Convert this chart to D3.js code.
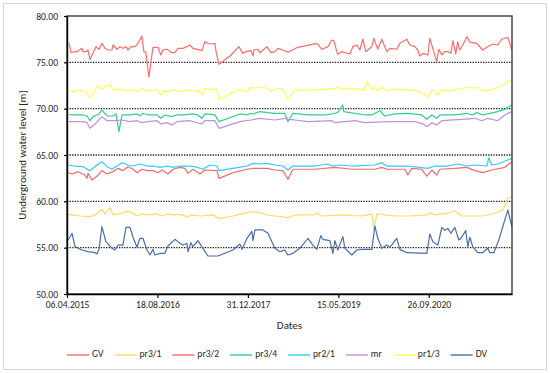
<!DOCTYPE html>
<html><head><meta charset="utf-8">
<script src="https://cdn.jsdelivr.net/npm/d3@7"></script>
<style>body{margin:0;background:#fff;} svg{display:block;}</style>
</head><body>
<script>
// ---- data: [days since 06.04.2015, water level m] ----
const xTickDays = [0, 500, 1000, 1500, 2000];
const xTickLabels = ["06.04.2015", "18.08.2016", "31.12.2017", "15.05.2019", "26.09.2020"];
const yTicks = [50, 55, 60, 65, 70, 75, 80];
const seriesNames = ["GV", "pr3/1", "pr3/2", "pr3/4", "pr2/1", "mr", "pr1/3", "DV"];

const gvData = [[11,77.10],[22,76.08],[55,76.15],[83,76.51],[88,76.15],[105,76.15],[116,76.33],[127,75.30],[144,76.00],[160,76.69],[177,76.41],[193,77.05],[210,76.51],[227,76.33],[249,76.33],[254,76.87],[276,76.41],[293,76.69],[309,76.51],[326,76.69],[337,76.33],[354,76.69],[376,76.69],[392,77.05],[414,77.85],[425,76.15],[436,76.08],[453,73.42],[475,76.62],[503,76.62],[519,75.79],[530,76.33],[553,76.41],[580,76.04],[597,76.08],[613,76.51],[641,76.51],[663,76.69],[680,76.87],[696,76.51],[746,76.26],[762,77.23],[779,77.05],[801,76.98],[818,77.05],[823,76.26],[840,74.79],[901,75.68],[950,76.69],[972,75.97],[989,76.15],[1017,76.26],[1028,75.68],[1033,76.33],[1055,76.41],[1066,76.04],[1105,76.69],[1127,76.04],[1149,76.15],[1166,76.51],[1193,76.33],[1221,76.08],[1276,76.62],[1381,77.05],[1409,76.41],[1442,76.69],[1464,77.41],[1475,77.33],[1492,76.15],[1497,75.87],[1519,76.15],[1564,75.90],[1580,76.69],[1602,76.87],[1619,76.33],[1635,77.49],[1652,76.15],[1685,76.69],[1696,77.59],[1718,76.41],[1740,77.49],[1768,76.15],[1785,76.51],[1823,76.41],[1840,77.05],[1879,77.49],[1895,76.87],[1923,76.69],[1939,76.33],[1950,75.68],[1967,75.97],[1995,75.79],[2006,77.59],[2022,76.51],[2044,75.07],[2055,76.41],[2072,75.79],[2088,76.15],[2105,76.15],[2122,75.97],[2133,77.33],[2149,75.90],[2160,77.23],[2171,76.33],[2188,76.87],[2210,77.77],[2227,77.19],[2265,77.05],[2298,76.33],[2326,76.69],[2354,76.98],[2381,76.87],[2403,77.49],[2437,77.70],[2459,76.33]];

const pr31Data = [[6,58.60],[72,58.42],[127,58.35],[155,58.53],[193,59.14],[210,58.64],[238,59.32],[254,58.53],[293,58.64],[320,58.89],[348,58.89],[387,58.42],[414,58.64],[448,58.53],[497,58.64],[525,58.42],[553,58.64],[586,58.53],[624,58.60],[663,58.35],[691,58.53],[735,58.42],[807,58.53],[840,58.17],[917,58.42],[995,58.78],[1028,58.89],[1066,58.78],[1105,58.53],[1149,58.42],[1221,58.24],[1260,58.53],[1370,58.53],[1381,58.78],[1409,58.42],[1519,58.53],[1630,58.42],[1685,58.64],[1696,56.98],[1713,58.64],[1812,58.42],[1884,58.42],[1995,58.53],[2006,58.78],[2033,58.53],[2105,58.71],[2144,58.99],[2182,58.42],[2254,58.42],[2293,58.42],[2365,58.71],[2409,59.07],[2437,60.33],[2459,60.44]];

const pr32Data = [[6,63.09],[28,62.95],[61,63.20],[99,62.84],[111,62.48],[116,63.02],[138,62.30],[166,62.73],[193,63.31],[221,62.95],[254,63.20],[282,63.56],[309,63.31],[337,63.74],[365,63.46],[387,63.09],[414,63.46],[442,63.31],[475,63.31],[503,63.09],[525,63.38],[558,62.95],[586,63.46],[624,63.67],[652,63.56],[669,63.02],[696,63.46],[735,62.95],[762,63.38],[829,63.31],[840,62.48],[917,63.09],[995,63.46],[1028,63.56],[1105,63.56],[1149,63.38],[1193,63.31],[1221,62.38],[1249,63.46],[1370,63.46],[1481,63.67],[1575,63.46],[1702,63.46],[1740,63.67],[1768,63.46],[1867,63.46],[1884,62.84],[1906,63.56],[1961,63.46],[1989,62.73],[2017,63.38],[2044,62.84],[2061,63.46],[2144,63.56],[2210,63.67],[2254,63.31],[2298,63.09],[2348,63.38],[2420,63.67],[2459,64.28]];

const pr34Data = [[11,69.39],[28,69.32],[88,69.32],[111,69.21],[127,68.70],[144,69.14],[177,69.43],[193,69.86],[210,69.43],[227,69.21],[254,69.21],[271,69.43],[287,67.52],[304,69.32],[348,69.32],[387,69.43],[403,69.21],[420,69.50],[448,69.32],[497,69.32],[519,68.96],[541,69.32],[575,69.14],[608,69.32],[652,69.32],[691,69.43],[724,69.32],[746,68.96],[762,69.43],[818,69.32],[840,68.60],[956,69.43],[995,69.32],[1017,69.50],[1028,69.43],[1066,69.68],[1111,69.57],[1149,69.50],[1204,69.50],[1221,68.60],[1249,69.50],[1332,69.32],[1425,69.32],[1481,69.50],[1497,69.61],[1525,70.40],[1530,69.68],[1591,69.50],[1646,69.32],[1685,69.32],[1729,69.78],[1757,69.21],[1812,69.43],[1884,69.50],[1961,69.32],[1989,68.85],[2017,69.32],[2044,68.96],[2061,69.32],[2144,69.32],[2210,69.50],[2238,69.32],[2265,69.57],[2298,69.32],[2337,69.50],[2381,69.68],[2420,69.93],[2459,70.40]];

const pr21Data = [[6,63.92],[44,63.81],[88,63.74],[127,63.31],[166,63.92],[193,64.28],[221,63.74],[249,63.46],[276,63.81],[304,64.17],[337,63.92],[365,63.81],[403,64.03],[442,63.81],[475,63.81],[514,63.67],[553,63.81],[586,63.67],[624,63.81],[669,63.81],[707,63.74],[751,63.46],[790,63.92],[829,63.81],[840,63.31],[917,63.56],[995,63.81],[1028,64.10],[1066,64.03],[1105,64.10],[1149,63.92],[1193,63.81],[1221,63.38],[1249,63.81],[1370,63.81],[1442,64.03],[1470,63.81],[1508,63.92],[1575,63.81],[1702,63.92],[1740,64.17],[1768,63.81],[1884,63.81],[1995,63.56],[2033,63.81],[2105,63.81],[2160,64.03],[2210,63.81],[2254,63.92],[2321,63.81],[2332,64.71],[2348,63.92],[2381,64.03],[2437,64.46],[2459,64.64]];

const mrData = [[11,68.60],[88,68.60],[111,68.49],[127,67.88],[155,68.35],[193,69.14],[221,68.70],[265,68.70],[304,68.78],[348,68.60],[387,68.70],[414,68.49],[448,68.60],[497,68.70],[519,68.35],[553,68.49],[580,68.24],[608,68.60],[680,68.70],[746,68.35],[762,68.70],[818,68.70],[840,67.88],[956,68.60],[1017,68.78],[1066,68.96],[1149,68.78],[1204,68.96],[1221,68.85],[1260,68.78],[1332,68.60],[1464,68.70],[1481,68.49],[1591,68.70],[1646,68.49],[1774,68.60],[1923,68.60],[1961,68.42],[1989,68.05],[2017,68.49],[2044,68.24],[2072,68.70],[2182,68.85],[2254,68.96],[2293,68.70],[2326,68.96],[2381,68.70],[2420,69.32],[2459,69.68]];

const pr13Data = [[11,72.01],[28,71.83],[55,71.91],[83,72.01],[105,71.83],[127,71.12],[155,72.09],[171,72.45],[188,72.09],[204,72.31],[238,72.55],[254,72.09],[282,72.09],[309,72.01],[337,71.91],[376,72.09],[387,71.83],[420,72.20],[431,71.91],[470,71.91],[497,72.09],[519,71.47],[530,71.91],[553,71.83],[580,72.01],[613,71.91],[641,71.83],[669,72.01],[696,71.91],[724,71.91],[746,71.47],[762,72.20],[807,72.09],[829,72.09],[840,71.01],[956,72.09],[995,71.83],[1017,72.31],[1039,72.20],[1066,72.31],[1105,72.20],[1127,71.91],[1149,72.09],[1188,72.20],[1221,71.01],[1260,72.01],[1332,72.01],[1425,72.09],[1481,72.20],[1497,72.31],[1519,72.09],[1564,72.20],[1619,72.09],[1641,72.01],[1658,72.91],[1685,72.09],[1702,72.31],[1718,71.91],[1740,72.31],[1768,71.91],[1801,72.09],[1851,72.09],[1906,72.01],[1939,71.91],[1967,71.58],[1995,71.29],[2017,72.01],[2033,71.91],[2044,71.47],[2072,72.01],[2105,71.91],[2155,72.09],[2182,72.20],[2210,72.31],[2238,72.20],[2271,72.31],[2298,71.91],[2354,72.09],[2403,72.45],[2437,72.91],[2459,73.09]];

const dvData = [[6,55.83],[28,56.55],[44,55.11],[83,54.75],[116,54.57],[155,54.46],[166,54.32],[177,54.82],[193,57.26],[215,55.65],[249,54.93],[265,54.75],[282,55.28],[309,55.28],[326,57.19],[348,57.19],[365,56.12],[387,55.04],[403,56.01],[420,56.01],[442,54.75],[459,54.21],[475,54.82],[486,54.21],[514,54.39],[541,54.39],[558,55.18],[597,55.90],[613,55.65],[641,55.28],[663,55.47],[669,54.57],[685,55.54],[696,55.11],[724,55.76],[779,54.10],[834,54.10],[917,54.75],[956,55.39],[967,54.82],[995,56.01],[1022,56.76],[1028,55.76],[1039,56.91],[1083,56.91],[1111,56.55],[1149,54.93],[1177,54.57],[1204,54.75],[1221,54.21],[1249,54.39],[1287,54.93],[1332,56.01],[1359,55.28],[1381,54.82],[1403,56.30],[1414,55.90],[1453,55.76],[1470,54.39],[1481,55.76],[1497,54.75],[1525,56.19],[1536,54.93],[1575,54.21],[1602,54.75],[1630,54.82],[1685,54.82],[1702,57.34],[1718,56.01],[1740,54.93],[1768,55.28],[1785,55.04],[1823,56.01],[1840,54.82],[1879,54.46],[1989,54.39],[2006,56.48],[2022,55.65],[2050,55.28],[2072,57.19],[2088,56.87],[2105,57.08],[2122,56.55],[2144,57.19],[2166,55.83],[2182,56.12],[2204,56.84],[2216,55.11],[2227,56.12],[2243,55.11],[2271,54.46],[2298,54.46],[2326,54.93],[2337,54.46],[2359,54.46],[2387,55.83],[2437,59.07],[2459,57.26]];

const seriesData = [gvData, pr31Data, pr32Data, pr34Data, pr21Data, mrData, pr13Data, dvData];
const seriesColors = ["#ff6b6b", "#ffd966", "#f8696b", "#2fd08c", "#2ecbff", "#c08fdc", "#ffff4d", "#4a6ea6"];

// ---- drawing ----
const W = 550, H = 373;
const L = 67, R = 512, T = 16, B = 294;
const font = "Carlito, Lato, 'Open Sans', sans-serif";
const textColor = "#262626";

const svg = d3.select("body").append("svg").attr("width", W).attr("height", H);
svg.append("rect").attr("x", 3.5).attr("y", 3.5).attr("width", 543).attr("height", 366)
  .attr("fill", "#fff").attr("stroke", "#d9d9d9").attr("stroke-width", 1);

const x = d3.scaleLinear().domain([0, 2460]).range([L, R]);
const y = d3.scaleLinear().domain([50, 80]).range([B, T]);

// gridlines
svg.append("g").selectAll("line").data(yTicks.filter(v => v > 50 && v < 80)).join("line")
  .attr("x1", L).attr("x2", R).attr("y1", d => y(d)).attr("y2", d => y(d))
  .attr("stroke", "#1a1a1a").attr("stroke-width", 1.3).attr("stroke-dasharray", "1.3,1.3");

// series
const line = d3.line().x(d => x(d[0])).y(d => y(d[1]));
svg.append("g").selectAll("path").data(seriesData).join("path")
  .attr("d", line).attr("fill", "none")
  .attr("stroke", (d, i) => seriesColors[i]).attr("stroke-width", 1.2)
  .attr("stroke-linejoin", "round");

// plot border
svg.append("rect").attr("x", L).attr("y", T).attr("width", R - L).attr("height", B - T)
  .attr("fill", "none").attr("stroke", "#3a3a3a").attr("stroke-width", 1.4);

// axes
const yAxis = svg.append("g").attr("transform", `translate(${L},0)`)
  .call(d3.axisLeft(y).tickValues(yTicks).tickFormat(d3.format(".2f")).tickSize(3).tickSizeOuter(0).tickPadding(6));
const xAxis = svg.append("g").attr("transform", `translate(0,${B})`)
  .call(d3.axisBottom(x).tickValues(xTickDays).tickFormat((d, i) => xTickLabels[i]).tickSize(4).tickSizeOuter(0).tickPadding(3));
[yAxis, xAxis].forEach(g => {
  g.select(".domain").attr("stroke", "#000").attr("stroke-width", 1.4);
  g.selectAll(".tick line").attr("stroke", "#000").attr("stroke-width", 1.2);
  g.selectAll("text").attr("font-family", font).attr("font-size", 9.6).attr("fill", textColor);
});

// axis titles
svg.append("text").attr("x", (L + R) / 2).attr("y", 326).attr("text-anchor", "middle")
  .attr("dominant-baseline", "middle").attr("font-family", font).attr("font-size", 11)
  .attr("fill", textColor).text("Dates");
svg.append("text").attr("transform", `translate(23,${(T + B) / 2}) rotate(-90)`)
  .attr("text-anchor", "middle").attr("dominant-baseline", "middle")
  .attr("font-family", font).attr("font-size", 11).attr("fill", textColor)
  .text("Underground water level [m]");

// legend
const legY = 355;
const leg = svg.append("g");
const items = leg.selectAll("g").data(seriesNames).join("g");
items.append("line").attr("x1", 0).attr("x2", 22).attr("y1", legY).attr("y2", legY)
  .attr("stroke", (d, i) => seriesColors[i]).attr("stroke-width", 1.4);
items.append("text").attr("x", 25).attr("y", legY).attr("dominant-baseline", "middle")
  .attr("font-family", font).attr("font-size", 9.6).attr("fill", textColor).text(d => d);
let cx = 0;
const offs = [];
items.each(function () {
  const w = 25 + this.querySelector("text").getComputedTextLength();
  offs.push(cx);
  cx += w + 11;
});
const totalW = cx - 11;
const startX = 277 - totalW / 2;
items.attr("transform", (d, i) => `translate(${startX + offs[i]},0)`);
</script>
</body></html>
